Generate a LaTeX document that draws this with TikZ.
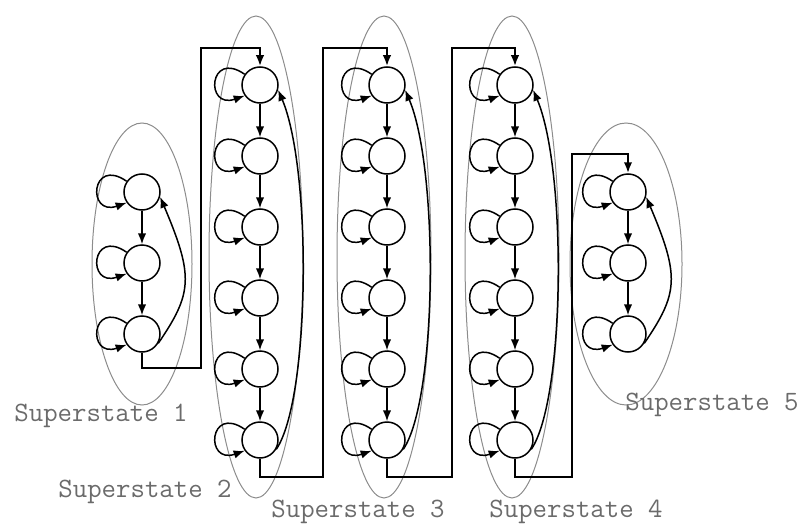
\documentclass[tikz,border=0pt]{standalone}
\usepackage{fontspec}
\usetikzlibrary{arrows.meta}

\begin{document}
\begin{tikzpicture}[>={Latex[length=11pt,width=8.5pt]}, x=1pt, y=-1pt,
    state/.style={circle, draw, line width=1.5pt, minimum size=36pt, inner sep=0pt},
    edge/.style={line width=1.5pt, ->},
    link/.style={line width=2.2pt, ->},
    group/.style={draw=black!45, line width=1pt},
    tag/.style={text=black!58, font=\ttfamily\fontsize{28}{32}\selectfont}]

    \useasboundingbox (0,0) rectangle (803,527);

    % superstate / x / top y / states / ellipse
    \foreach \s/\x/\y/\n/\cx/\cy/\rx/\ry in {1/142/192/3/142/264/50/141,
        2/260/85/6/256/257/47/241, 3/387/85/6/384/257/47/241,
        4/515/85/6/512/257/47/241, 5/628/192/3/626/264/56/141}
    {
        \draw[group] (\cx,\cy) ellipse [x radius=\rx, y radius=\ry];
        \foreach \j in {1,...,\n}
        {
            \node[state] (s\s-\j) at (\x,{\y+71*(\j-1)}) {};
            \draw[edge] (s\s-\j.145) .. controls +(-36,-25) and +(-40,14) .. (s\s-\j.215);
        }
        \pgfmathtruncatemacro\m{\n-1}
        \foreach \j [evaluate=\j as \k using int(\j+1)] in {1,...,\m}
            \draw[edge] (s\s-\j) -- (s\s-\k);
        \draw[edge] (s\s-\n.-30) .. controls +(34,-50) and +(34,80) .. (s\s-1.-15);
    }

    \draw[link] (s1-3) |- (201,368) -- (201,48) -| (s2-1);
    \draw[link] (s2-6) |- (323,477) -- (323,48) -| (s3-1);
    \draw[link] (s3-6) |- (452,477) -- (452,48) -| (s4-1);
    \draw[link] (s4-6) |- (572,477) -- (572,154) -| (s5-1);

    \node[tag] (lab1) at (101,416) {Superstate 1};
    \node[tag] (lab2) at (145,492) {Superstate 2};
    \node[tag] (lab3) at (358,512) {Superstate 3};
    \node[tag] (lab4) at (576,512) {Superstate 4};
    \node[tag] (lab5) at (712,405) {Superstate 5};

\end{tikzpicture}
\end{document}
